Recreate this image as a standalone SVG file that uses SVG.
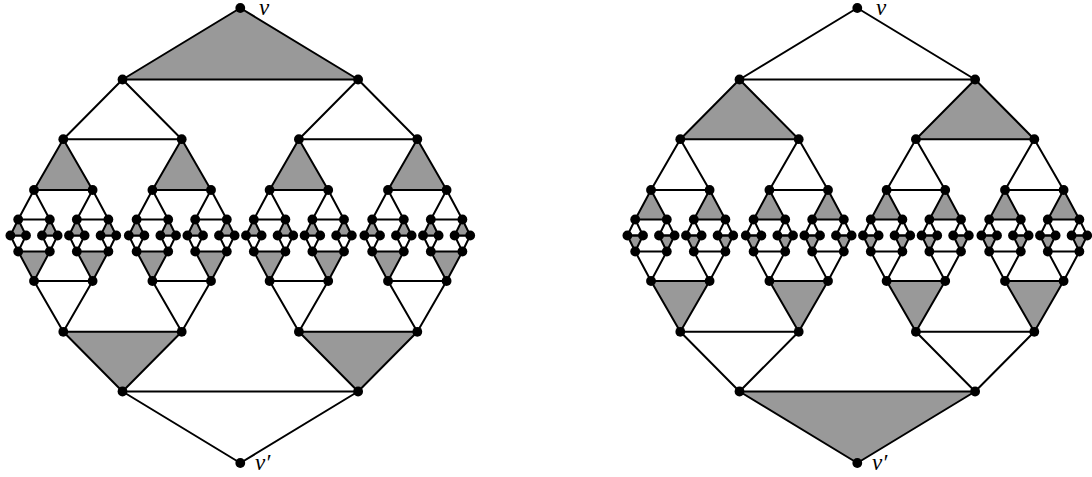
<svg xmlns="http://www.w3.org/2000/svg" xmlns:xlink="http://www.w3.org/1999/xlink" width="1092" height="477" viewBox="0 0 1092 477">
<style>
polygon{stroke:#000;stroke-width:2;stroke-linejoin:round}
.p{fill:var(--fp)}
.q{fill:var(--fq)}
.n circle{fill:#000;r:4.9px}
text{font-family:"Liberation Serif","DejaVu Serif",serif;font-style:italic;font-size:23px;fill:#000}
</style>
<rect width="1092" height="477" fill="#fff"/>
<g id="connectors">
<g style="--fp:#999;--fq:none">
<g id="edgesL">
<polygon class="p" points="240.3,8 122.5,79.5 358.1,79.5"/>
<polygon class="q" points="240.3,463 122.5,391.5 358.1,391.5"/>
<polygon class="q" points="122.5,79.5 63.3,139.2 181.7,139.2"/>
<polygon class="p" points="122.5,391.5 63.3,331.8 181.7,331.8"/>
<polygon class="q" points="358.1,79.5 298.9,139.2 417.3,139.2"/>
<polygon class="p" points="358.1,391.5 298.9,331.8 417.3,331.8"/>
<polygon class="p" points="63.3,139.2 34,190 92.6,190"/>
<polygon class="q" points="63.3,331.8 34,281 92.6,281"/>
<polygon class="p" points="181.7,139.2 152.4,190 211,190"/>
<polygon class="q" points="181.7,331.8 152.4,281 211,281"/>
<polygon class="p" points="298.9,139.2 269.6,190 328.2,190"/>
<polygon class="q" points="298.9,331.8 269.6,281 328.2,281"/>
<polygon class="p" points="417.3,139.2 388,190 446.6,190"/>
<polygon class="q" points="417.3,331.8 388,281 446.6,281"/>
<polygon class="q" points="34,190 18.2,219.5 49.8,219.5"/>
<polygon class="p" points="34,281 18.2,251.5 49.8,251.5"/>
<polygon class="q" points="92.6,190 76.8,219.5 108.4,219.5"/>
<polygon class="p" points="92.6,281 76.8,251.5 108.4,251.5"/>
<polygon class="q" points="152.4,190 136.6,219.5 168.2,219.5"/>
<polygon class="p" points="152.4,281 136.6,251.5 168.2,251.5"/>
<polygon class="q" points="211,190 195.2,219.5 226.8,219.5"/>
<polygon class="p" points="211,281 195.2,251.5 226.8,251.5"/>
<polygon class="q" points="269.6,190 253.8,219.5 285.4,219.5"/>
<polygon class="p" points="269.6,281 253.8,251.5 285.4,251.5"/>
<polygon class="q" points="328.2,190 312.4,219.5 344,219.5"/>
<polygon class="p" points="328.2,281 312.4,251.5 344,251.5"/>
<polygon class="q" points="388,190 372.2,219.5 403.8,219.5"/>
<polygon class="p" points="388,281 372.2,251.5 403.8,251.5"/>
<polygon class="q" points="446.6,190 430.8,219.5 462.4,219.5"/>
<polygon class="p" points="446.6,281 430.8,251.5 462.4,251.5"/>
<polygon class="q" points="18.2,251.5 10.4,235.5 26,235.5"/>
<polygon class="p" points="18.2,219.5 10.4,235.5 26,235.5"/>
<polygon class="q" points="49.8,251.5 42,235.5 57.6,235.5"/>
<polygon class="p" points="49.8,219.5 42,235.5 57.6,235.5"/>
<polygon class="q" points="76.8,251.5 69,235.5 84.6,235.5"/>
<polygon class="p" points="76.8,219.5 69,235.5 84.6,235.5"/>
<polygon class="q" points="108.4,251.5 100.6,235.5 116.2,235.5"/>
<polygon class="p" points="108.4,219.5 100.6,235.5 116.2,235.5"/>
<polygon class="q" points="136.6,251.5 128.8,235.5 144.4,235.5"/>
<polygon class="p" points="136.6,219.5 128.8,235.5 144.4,235.5"/>
<polygon class="q" points="168.2,251.5 160.4,235.5 176,235.5"/>
<polygon class="p" points="168.2,219.5 160.4,235.5 176,235.5"/>
<polygon class="q" points="195.2,251.5 187.4,235.5 203,235.5"/>
<polygon class="p" points="195.2,219.5 187.4,235.5 203,235.5"/>
<polygon class="q" points="226.8,251.5 219,235.5 234.6,235.5"/>
<polygon class="p" points="226.8,219.5 219,235.5 234.6,235.5"/>
<polygon class="q" points="253.8,251.5 246,235.5 261.6,235.5"/>
<polygon class="p" points="253.8,219.5 246,235.5 261.6,235.5"/>
<polygon class="q" points="285.4,251.5 277.6,235.5 293.2,235.5"/>
<polygon class="p" points="285.4,219.5 277.6,235.5 293.2,235.5"/>
<polygon class="q" points="312.4,251.5 304.6,235.5 320.2,235.5"/>
<polygon class="p" points="312.4,219.5 304.6,235.5 320.2,235.5"/>
<polygon class="q" points="344,251.5 336.2,235.5 351.8,235.5"/>
<polygon class="p" points="344,219.5 336.2,235.5 351.8,235.5"/>
<polygon class="q" points="372.2,251.5 364.4,235.5 380,235.5"/>
<polygon class="p" points="372.2,219.5 364.4,235.5 380,235.5"/>
<polygon class="q" points="403.8,251.5 396,235.5 411.6,235.5"/>
<polygon class="p" points="403.8,219.5 396,235.5 411.6,235.5"/>
<polygon class="q" points="430.8,251.5 423,235.5 438.6,235.5"/>
<polygon class="p" points="430.8,219.5 423,235.5 438.6,235.5"/>
<polygon class="q" points="462.4,251.5 454.6,235.5 470.2,235.5"/>
<polygon class="p" points="462.4,219.5 454.6,235.5 470.2,235.5"/>
</g>
</g>
<use href="#edgesL" xlink:href="#edgesL" x="617" style="--fp:none;--fq:#999"/>
</g>
<g id="nodesL" class="n">
<g id="Lv"><circle cx="240.3" cy="8"/></g>
<g id="Lvp"><circle cx="240.3" cy="463"/></g>
<g id="L1t0"><circle cx="122.5" cy="79.5"/></g>
<g id="L1t1"><circle cx="358.1" cy="79.5"/></g>
<g id="L1b0"><circle cx="122.5" cy="391.5"/></g>
<g id="L1b1"><circle cx="358.1" cy="391.5"/></g>
<g id="L2t0"><circle cx="63.3" cy="139.2"/></g>
<g id="L2t1"><circle cx="181.7" cy="139.2"/></g>
<g id="L2t2"><circle cx="298.9" cy="139.2"/></g>
<g id="L2t3"><circle cx="417.3" cy="139.2"/></g>
<g id="L2b0"><circle cx="63.3" cy="331.8"/></g>
<g id="L2b1"><circle cx="181.7" cy="331.8"/></g>
<g id="L2b2"><circle cx="298.9" cy="331.8"/></g>
<g id="L2b3"><circle cx="417.3" cy="331.8"/></g>
<g id="L3t0"><circle cx="34" cy="190"/></g>
<g id="L3t1"><circle cx="92.6" cy="190"/></g>
<g id="L3t2"><circle cx="152.4" cy="190"/></g>
<g id="L3t3"><circle cx="211" cy="190"/></g>
<g id="L3t4"><circle cx="269.6" cy="190"/></g>
<g id="L3t5"><circle cx="328.2" cy="190"/></g>
<g id="L3t6"><circle cx="388" cy="190"/></g>
<g id="L3t7"><circle cx="446.6" cy="190"/></g>
<g id="L3b0"><circle cx="34" cy="281"/></g>
<g id="L3b1"><circle cx="92.6" cy="281"/></g>
<g id="L3b2"><circle cx="152.4" cy="281"/></g>
<g id="L3b3"><circle cx="211" cy="281"/></g>
<g id="L3b4"><circle cx="269.6" cy="281"/></g>
<g id="L3b5"><circle cx="328.2" cy="281"/></g>
<g id="L3b6"><circle cx="388" cy="281"/></g>
<g id="L3b7"><circle cx="446.6" cy="281"/></g>
<g id="L4t0"><circle cx="18.2" cy="219.5"/></g>
<g id="L4t1"><circle cx="49.8" cy="219.5"/></g>
<g id="L4t2"><circle cx="76.8" cy="219.5"/></g>
<g id="L4t3"><circle cx="108.4" cy="219.5"/></g>
<g id="L4t4"><circle cx="136.6" cy="219.5"/></g>
<g id="L4t5"><circle cx="168.2" cy="219.5"/></g>
<g id="L4t6"><circle cx="195.2" cy="219.5"/></g>
<g id="L4t7"><circle cx="226.8" cy="219.5"/></g>
<g id="L4t8"><circle cx="253.8" cy="219.5"/></g>
<g id="L4t9"><circle cx="285.4" cy="219.5"/></g>
<g id="L4t10"><circle cx="312.4" cy="219.5"/></g>
<g id="L4t11"><circle cx="344" cy="219.5"/></g>
<g id="L4t12"><circle cx="372.2" cy="219.5"/></g>
<g id="L4t13"><circle cx="403.8" cy="219.5"/></g>
<g id="L4t14"><circle cx="430.8" cy="219.5"/></g>
<g id="L4t15"><circle cx="462.4" cy="219.5"/></g>
<g id="L4b0"><circle cx="18.2" cy="251.5"/></g>
<g id="L4b1"><circle cx="49.8" cy="251.5"/></g>
<g id="L4b2"><circle cx="76.8" cy="251.5"/></g>
<g id="L4b3"><circle cx="108.4" cy="251.5"/></g>
<g id="L4b4"><circle cx="136.6" cy="251.5"/></g>
<g id="L4b5"><circle cx="168.2" cy="251.5"/></g>
<g id="L4b6"><circle cx="195.2" cy="251.5"/></g>
<g id="L4b7"><circle cx="226.8" cy="251.5"/></g>
<g id="L4b8"><circle cx="253.8" cy="251.5"/></g>
<g id="L4b9"><circle cx="285.4" cy="251.5"/></g>
<g id="L4b10"><circle cx="312.4" cy="251.5"/></g>
<g id="L4b11"><circle cx="344" cy="251.5"/></g>
<g id="L4b12"><circle cx="372.2" cy="251.5"/></g>
<g id="L4b13"><circle cx="403.8" cy="251.5"/></g>
<g id="L4b14"><circle cx="430.8" cy="251.5"/></g>
<g id="L4b15"><circle cx="462.4" cy="251.5"/></g>
<g id="L5m0"><circle cx="10.4" cy="235.5"/></g>
<g id="L5m1"><circle cx="26" cy="235.5"/></g>
<g id="L5m2"><circle cx="42" cy="235.5"/></g>
<g id="L5m3"><circle cx="57.6" cy="235.5"/></g>
<g id="L5m4"><circle cx="69" cy="235.5"/></g>
<g id="L5m5"><circle cx="84.6" cy="235.5"/></g>
<g id="L5m6"><circle cx="100.6" cy="235.5"/></g>
<g id="L5m7"><circle cx="116.2" cy="235.5"/></g>
<g id="L5m8"><circle cx="128.8" cy="235.5"/></g>
<g id="L5m9"><circle cx="144.4" cy="235.5"/></g>
<g id="L5m10"><circle cx="160.4" cy="235.5"/></g>
<g id="L5m11"><circle cx="176" cy="235.5"/></g>
<g id="L5m12"><circle cx="187.4" cy="235.5"/></g>
<g id="L5m13"><circle cx="203" cy="235.5"/></g>
<g id="L5m14"><circle cx="219" cy="235.5"/></g>
<g id="L5m15"><circle cx="234.6" cy="235.5"/></g>
<g id="L5m16"><circle cx="246" cy="235.5"/></g>
<g id="L5m17"><circle cx="261.6" cy="235.5"/></g>
<g id="L5m18"><circle cx="277.6" cy="235.5"/></g>
<g id="L5m19"><circle cx="293.2" cy="235.5"/></g>
<g id="L5m20"><circle cx="304.6" cy="235.5"/></g>
<g id="L5m21"><circle cx="320.2" cy="235.5"/></g>
<g id="L5m22"><circle cx="336.2" cy="235.5"/></g>
<g id="L5m23"><circle cx="351.8" cy="235.5"/></g>
<g id="L5m24"><circle cx="364.4" cy="235.5"/></g>
<g id="L5m25"><circle cx="380" cy="235.5"/></g>
<g id="L5m26"><circle cx="396" cy="235.5"/></g>
<g id="L5m27"><circle cx="411.6" cy="235.5"/></g>
<g id="L5m28"><circle cx="423" cy="235.5"/></g>
<g id="L5m29"><circle cx="438.6" cy="235.5"/></g>
<g id="L5m30"><circle cx="454.6" cy="235.5"/></g>
<g id="L5m31"><circle cx="470.2" cy="235.5"/></g>
</g>
<g id="nodesR" class="n" transform="translate(617,0)">
<g id="Rv"><circle cx="240.3" cy="8"/></g>
<g id="Rvp"><circle cx="240.3" cy="463"/></g>
<g id="R1t0"><circle cx="122.5" cy="79.5"/></g>
<g id="R1t1"><circle cx="358.1" cy="79.5"/></g>
<g id="R1b0"><circle cx="122.5" cy="391.5"/></g>
<g id="R1b1"><circle cx="358.1" cy="391.5"/></g>
<g id="R2t0"><circle cx="63.3" cy="139.2"/></g>
<g id="R2t1"><circle cx="181.7" cy="139.2"/></g>
<g id="R2t2"><circle cx="298.9" cy="139.2"/></g>
<g id="R2t3"><circle cx="417.3" cy="139.2"/></g>
<g id="R2b0"><circle cx="63.3" cy="331.8"/></g>
<g id="R2b1"><circle cx="181.7" cy="331.8"/></g>
<g id="R2b2"><circle cx="298.9" cy="331.8"/></g>
<g id="R2b3"><circle cx="417.3" cy="331.8"/></g>
<g id="R3t0"><circle cx="34" cy="190"/></g>
<g id="R3t1"><circle cx="92.6" cy="190"/></g>
<g id="R3t2"><circle cx="152.4" cy="190"/></g>
<g id="R3t3"><circle cx="211" cy="190"/></g>
<g id="R3t4"><circle cx="269.6" cy="190"/></g>
<g id="R3t5"><circle cx="328.2" cy="190"/></g>
<g id="R3t6"><circle cx="388" cy="190"/></g>
<g id="R3t7"><circle cx="446.6" cy="190"/></g>
<g id="R3b0"><circle cx="34" cy="281"/></g>
<g id="R3b1"><circle cx="92.6" cy="281"/></g>
<g id="R3b2"><circle cx="152.4" cy="281"/></g>
<g id="R3b3"><circle cx="211" cy="281"/></g>
<g id="R3b4"><circle cx="269.6" cy="281"/></g>
<g id="R3b5"><circle cx="328.2" cy="281"/></g>
<g id="R3b6"><circle cx="388" cy="281"/></g>
<g id="R3b7"><circle cx="446.6" cy="281"/></g>
<g id="R4t0"><circle cx="18.2" cy="219.5"/></g>
<g id="R4t1"><circle cx="49.8" cy="219.5"/></g>
<g id="R4t2"><circle cx="76.8" cy="219.5"/></g>
<g id="R4t3"><circle cx="108.4" cy="219.5"/></g>
<g id="R4t4"><circle cx="136.6" cy="219.5"/></g>
<g id="R4t5"><circle cx="168.2" cy="219.5"/></g>
<g id="R4t6"><circle cx="195.2" cy="219.5"/></g>
<g id="R4t7"><circle cx="226.8" cy="219.5"/></g>
<g id="R4t8"><circle cx="253.8" cy="219.5"/></g>
<g id="R4t9"><circle cx="285.4" cy="219.5"/></g>
<g id="R4t10"><circle cx="312.4" cy="219.5"/></g>
<g id="R4t11"><circle cx="344" cy="219.5"/></g>
<g id="R4t12"><circle cx="372.2" cy="219.5"/></g>
<g id="R4t13"><circle cx="403.8" cy="219.5"/></g>
<g id="R4t14"><circle cx="430.8" cy="219.5"/></g>
<g id="R4t15"><circle cx="462.4" cy="219.5"/></g>
<g id="R4b0"><circle cx="18.2" cy="251.5"/></g>
<g id="R4b1"><circle cx="49.8" cy="251.5"/></g>
<g id="R4b2"><circle cx="76.8" cy="251.5"/></g>
<g id="R4b3"><circle cx="108.4" cy="251.5"/></g>
<g id="R4b4"><circle cx="136.6" cy="251.5"/></g>
<g id="R4b5"><circle cx="168.2" cy="251.5"/></g>
<g id="R4b6"><circle cx="195.2" cy="251.5"/></g>
<g id="R4b7"><circle cx="226.8" cy="251.5"/></g>
<g id="R4b8"><circle cx="253.8" cy="251.5"/></g>
<g id="R4b9"><circle cx="285.4" cy="251.5"/></g>
<g id="R4b10"><circle cx="312.4" cy="251.5"/></g>
<g id="R4b11"><circle cx="344" cy="251.5"/></g>
<g id="R4b12"><circle cx="372.2" cy="251.5"/></g>
<g id="R4b13"><circle cx="403.8" cy="251.5"/></g>
<g id="R4b14"><circle cx="430.8" cy="251.5"/></g>
<g id="R4b15"><circle cx="462.4" cy="251.5"/></g>
<g id="R5m0"><circle cx="10.4" cy="235.5"/></g>
<g id="R5m1"><circle cx="26" cy="235.5"/></g>
<g id="R5m2"><circle cx="42" cy="235.5"/></g>
<g id="R5m3"><circle cx="57.6" cy="235.5"/></g>
<g id="R5m4"><circle cx="69" cy="235.5"/></g>
<g id="R5m5"><circle cx="84.6" cy="235.5"/></g>
<g id="R5m6"><circle cx="100.6" cy="235.5"/></g>
<g id="R5m7"><circle cx="116.2" cy="235.5"/></g>
<g id="R5m8"><circle cx="128.8" cy="235.5"/></g>
<g id="R5m9"><circle cx="144.4" cy="235.5"/></g>
<g id="R5m10"><circle cx="160.4" cy="235.5"/></g>
<g id="R5m11"><circle cx="176" cy="235.5"/></g>
<g id="R5m12"><circle cx="187.4" cy="235.5"/></g>
<g id="R5m13"><circle cx="203" cy="235.5"/></g>
<g id="R5m14"><circle cx="219" cy="235.5"/></g>
<g id="R5m15"><circle cx="234.6" cy="235.5"/></g>
<g id="R5m16"><circle cx="246" cy="235.5"/></g>
<g id="R5m17"><circle cx="261.6" cy="235.5"/></g>
<g id="R5m18"><circle cx="277.6" cy="235.5"/></g>
<g id="R5m19"><circle cx="293.2" cy="235.5"/></g>
<g id="R5m20"><circle cx="304.6" cy="235.5"/></g>
<g id="R5m21"><circle cx="320.2" cy="235.5"/></g>
<g id="R5m22"><circle cx="336.2" cy="235.5"/></g>
<g id="R5m23"><circle cx="351.8" cy="235.5"/></g>
<g id="R5m24"><circle cx="364.4" cy="235.5"/></g>
<g id="R5m25"><circle cx="380" cy="235.5"/></g>
<g id="R5m26"><circle cx="396" cy="235.5"/></g>
<g id="R5m27"><circle cx="411.6" cy="235.5"/></g>
<g id="R5m28"><circle cx="423" cy="235.5"/></g>
<g id="R5m29"><circle cx="438.6" cy="235.5"/></g>
<g id="R5m30"><circle cx="454.6" cy="235.5"/></g>
<g id="R5m31"><circle cx="470.2" cy="235.5"/></g>
</g>
<g id="labels">
<text x="259" y="15">v</text>
<text x="255" y="470">v′</text>
<text x="876" y="15">v</text>
<text x="872" y="470">v′</text>
</g>
</svg>
